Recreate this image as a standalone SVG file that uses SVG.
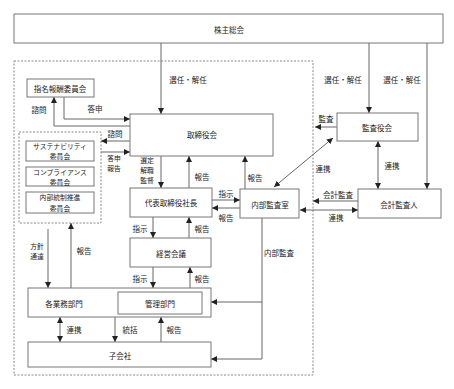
<svg xmlns="http://www.w3.org/2000/svg" width="454" height="389" viewBox="0 0 454 389">
<style>
.b{fill:#fff;stroke:#777;stroke-width:1}
.d{fill:none;stroke:#888;stroke-width:1;stroke-dasharray:2,1.5}
.c path{fill:none;stroke:#666;stroke-width:1}
text{font-family:"Noto Sans CJK JP","Noto Sans",sans-serif;font-size:7.5px;fill:#222;text-anchor:middle;dominant-baseline:central}
text.s{font-size:6.8px}
</style>
<defs>
<marker id="a" markerUnits="userSpaceOnUse" markerWidth="6" markerHeight="6" refX="6" refY="3" orient="auto-start-reverse"><path d="M0,0 L6,3 L0,6 z" fill="#222"/></marker>
</defs>
<rect x="0" y="0" width="454" height="389" fill="#fff"/>
<rect class="d" x="14" y="61" width="299" height="314"/>
<rect class="d" x="19" y="132" width="82" height="91"/>
<g class="c">
<path d="M161,43 V114" marker-end="url(#a)"/>
<path d="M369,43 V113" marker-end="url(#a)"/>
<path d="M427,43 V189" marker-end="url(#a)"/>
<path d="M130,126 H54 V97" marker-end="url(#a)"/>
<path d="M64,97 V119 H130" marker-end="url(#a)"/>
<path d="M130,141 H101" marker-end="url(#a)"/>
<path d="M101,152 H130" marker-end="url(#a)"/>
<path d="M161,156 V188" marker-end="url(#a)"/>
<path d="M189,188 V156" marker-end="url(#a)"/>
<path d="M212,200 H240" marker-end="url(#a)"/>
<path d="M240,208 H212" marker-end="url(#a)"/>
<path d="M245,189 V156" marker-end="url(#a)"/>
<path d="M337,127 H315" marker-end="url(#a)"/>
<path d="M333,138 L274,187" marker-start="url(#a)" marker-end="url(#a)"/>
<path d="M378,141 V189" marker-start="url(#a)" marker-end="url(#a)"/>
<path d="M358,201 H313" marker-end="url(#a)"/>
<path d="M300,210 H358" marker-start="url(#a)" marker-end="url(#a)"/>
<path d="M48,229 V288" marker-end="url(#a)"/>
<path d="M71,288 V223" marker-end="url(#a)"/>
<path d="M153,217 V238" marker-end="url(#a)"/>
<path d="M189,238 V217" marker-end="url(#a)"/>
<path d="M153,267 V288" marker-end="url(#a)"/>
<path d="M190,288 V267" marker-end="url(#a)"/>
<path d="M60,317 V342" marker-start="url(#a)" marker-end="url(#a)"/>
<path d="M115,317 V342" marker-end="url(#a)"/>
<path d="M161,342 V317" marker-end="url(#a)"/>
<path d="M262,218 V359 H211" marker-end="url(#a)"/>
<path d="M262,302 H211" marker-end="url(#a)"/>
</g>
<g id="n1"><rect class="b" x="14" y="14" width="429" height="29"/><text x="229" y="29">株主総会</text></g>
<g id="n2"><rect class="b" x="27" y="79" width="67" height="18"/><text x="60" y="88">指名報酬委員会</text></g>
<g id="n3"><rect class="b" x="130" y="114" width="143" height="42"/><text x="202" y="134">取締役会</text></g>
<g id="n4"><rect class="b" x="26" y="141" width="68" height="20"/><text class="s" x="60" y="146">サステナビリティ</text><text class="s" x="60" y="156">委員会</text></g>
<g id="n5"><rect class="b" x="26" y="167" width="68" height="19"/><text class="s" x="60" y="171.5">コンプライアンス</text><text class="s" x="60" y="181.5">委員会</text></g>
<g id="n6"><rect class="b" x="26" y="192" width="68" height="21"/><text class="s" x="60" y="197">内部統制推進</text><text class="s" x="60" y="207.5">委員会</text></g>
<g id="n7"><rect class="b" x="130" y="188" width="82" height="29"/><text x="171" y="202">代表取締役社長</text></g>
<g id="n8"><rect class="b" x="240" y="189" width="59" height="29"/><text x="270" y="204">内部監査室</text></g>
<g id="n9"><rect class="b" x="337" y="113" width="81" height="28"/><text x="377" y="127">監査役会</text></g>
<g id="n10"><rect class="b" x="358" y="189" width="83" height="29"/><text x="399" y="204">会計監査人</text></g>
<g id="n11"><rect class="b" x="130" y="238" width="81" height="29"/><text x="171" y="253">経営会議</text></g>
<g id="n12"><rect class="b" x="28" y="288" width="183" height="29"/><text x="64" y="303">各業務部門</text><rect class="b" x="118" y="292" width="84" height="22"/><text x="160" y="303">管理部門</text></g>
<g id="n13"><rect class="b" x="28" y="342" width="183" height="25"/><text x="120" y="355">子会社</text></g>
<g id="labels">
<text x="188" y="79">選任・解任</text>
<text x="343" y="79">選任・解任</text>
<text x="402" y="79">選任・解任</text>
<text x="39" y="109">諮問</text>
<text x="95" y="108">答申</text>
<text x="115" y="133">諮問</text>
<text class="s" x="114" y="158">答申</text>
<text class="s" x="114" y="168">報告</text>
<text class="s" x="147" y="160">選定</text>
<text class="s" x="147" y="170">解職</text>
<text class="s" x="147" y="180">監督</text>
<text x="202" y="176">報告</text>
<text x="226" y="193">指示</text>
<text x="226" y="217">報告</text>
<text x="255" y="177">報告</text>
<text x="326" y="118">監査</text>
<text x="323" y="168">連携</text>
<text x="392" y="165">連携</text>
<text x="338" y="194">会計監査</text>
<text x="336" y="217">連携</text>
<text class="s" x="37" y="246">方針</text>
<text class="s" x="37" y="256">通達</text>
<text x="84" y="250">報告</text>
<text x="140" y="228">指示</text>
<text x="202" y="228">報告</text>
<text x="140" y="278">指示</text>
<text x="202" y="278">報告</text>
<text x="74" y="329">連携</text>
<text x="130" y="329">統括</text>
<text x="174" y="329">報告</text>
<text x="279" y="252">内部監査</text>
</g>
</svg>
